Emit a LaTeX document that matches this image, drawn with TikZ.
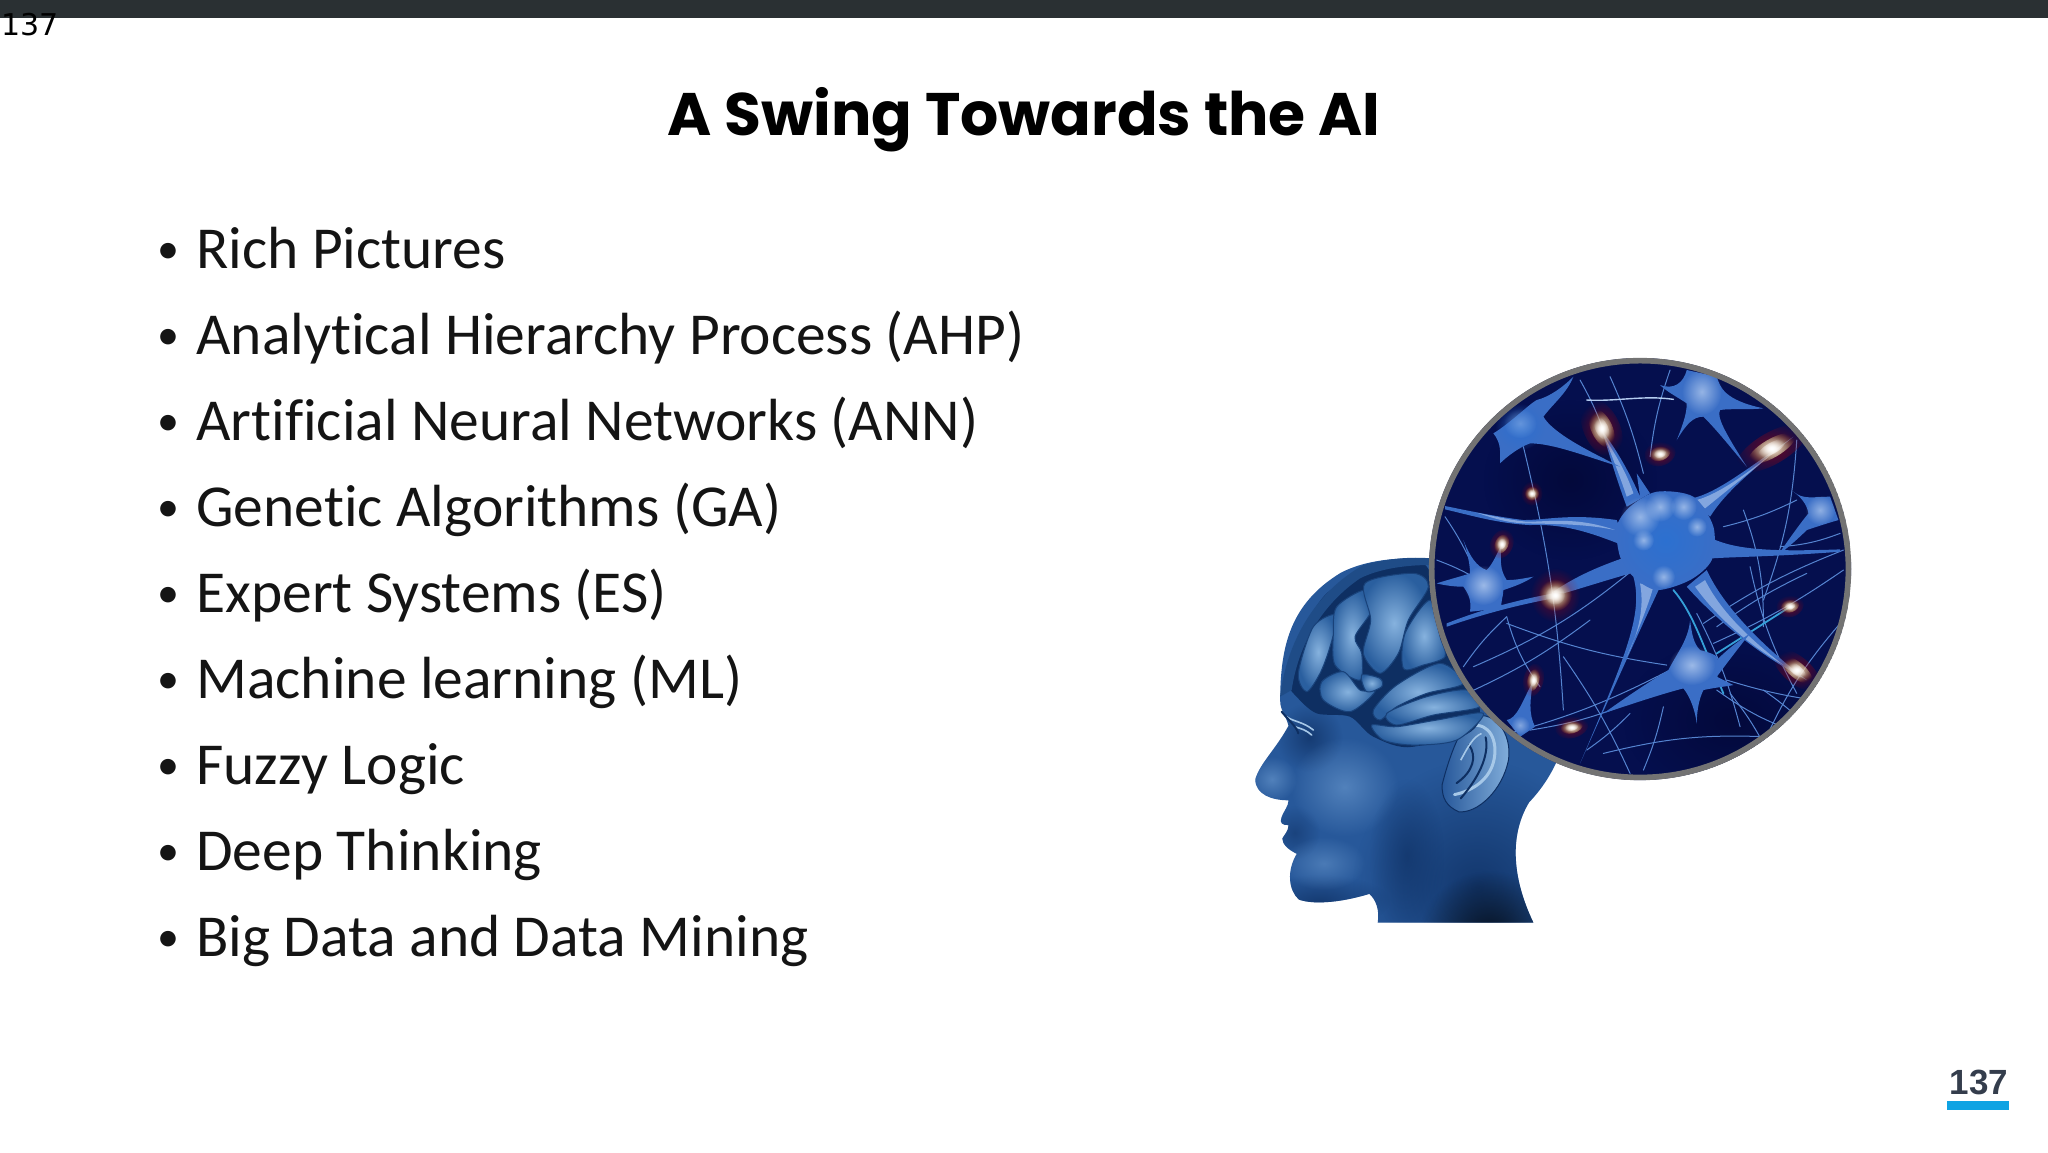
\documentclass[tikz,border=0pt]{standalone}
\usepackage{fontspec}
\setmainfont[Ligatures=NoCommon]{Carlito}
\newfontfamily\titlefont{Poppins}
\newfontfamily\cornerfont{DejaVu Sans}
\newfontfamily\pagefont{Liberation Sans}
\usetikzlibrary{positioning,shapes,fadings}
\definecolor{barcol}{HTML}{2A3033}
\definecolor{pagecol}{HTML}{343D4C}
\definecolor{rulecol}{HTML}{0FA3E3}
\definecolor{skincol}{HTML}{27589A}
\definecolor{skindark}{HTML}{0E2F62}
\definecolor{skinlight}{HTML}{6E9DD2}
\definecolor{lobecol}{HTML}{2A5F9F}
\definecolor{lobelit}{HTML}{86B2DE}
\definecolor{lobelight}{HTML}{A6C8E8}
\definecolor{navycol}{HTML}{050F4E}
\definecolor{navydark}{HTML}{030838}
\definecolor{cellcol}{HTML}{3A6EC6}
\definecolor{cellmid}{HTML}{2C70D0}
\definecolor{celllight}{HTML}{B4CCF0}
\definecolor{fibercol}{HTML}{5584D0}
\pgfdeclareradialshading{glowspot}{\pgfpointorigin}{color(0bp)=(white); color(14bp)=(white!70!yellow); color(26bp)=(orange!90!yellow); color(38bp)=(red!60!orange); color(50bp)=(red!60!black)}
\tikzfading[name=softedge, inner color=transparent!0, outer color=transparent!100]
\newcommand{\itemdot}{\makebox[19.5pt][l]{\raisebox{2.4pt}{\fontsize{22}{22}\selectfont\textbullet}}}
\begin{document}
\begin{tikzpicture}[x=0.5pt,y=-0.5pt,
    item/.style = {font=\fontsize{29.75}{32}\selectfont, text=black!92, inner sep=0pt, align=left, text height=21pt, text depth=7pt},
    fiber/.style = {draw=fibercol, line width=0.5pt, line cap=round},
    arm/.style = {fill=cellcol, draw=none},
    armlit/.style = {fill=celllight, opacity=.6, draw=none},
    fold/.style = {draw=skindark, line width=1pt, line cap=round},
    gyrus/.style = {inner color=lobelit, outer color=lobecol, draw=skindark!60!lobecol, line width=.5pt},
    soft/.style = {path fading=softedge},
    glow/.style = {shading=glowspot, path fading=softedge}]
    \useasboundingbox (0,0) rectangle (2048,1152);
    \fill[barcol] (0,0) rectangle (2048,18);

    \node[font=\cornerfont\fontsize{15}{16}\selectfont, inner sep=0pt, anchor=base west] (corner) at (1,35) {137};
    \node[font=\titlefont\bfseries\fontsize{30}{32}\selectfont, inner sep=0pt] (title) at (1024,120) {A Swing Towards the AI};

    \node[item, anchor=west] (i1) at (157,254) {\itemdot Rich Pictures};
    \node[item, below=43pt of i1.west, anchor=west] (i2) {\itemdot Analytical Hierarchy Process (AHP)};
    \node[item, below=43pt of i2.west, anchor=west] (i3) {\itemdot Artificial Neural Networks (ANN)};
    \node[item, below=43pt of i3.west, anchor=west] (i4) {\itemdot Genetic Algorithms (GA)};
    \node[item, below=43pt of i4.west, anchor=west] (i5) {\itemdot Expert Systems (ES)};
    \node[item, below=43pt of i5.west, anchor=west] (i6) {\itemdot Machine learning (ML)};
    \node[item, below=43pt of i6.west, anchor=west] (i7) {\itemdot Fuzzy Logic};
    \node[item, below=43pt of i7.west, anchor=west] (i8) {\itemdot Deep Thinking};
    \node[item, below=43pt of i8.west, anchor=west] (i9) {\itemdot Big Data and Data Mining};

    \node[font=\pagefont\bfseries\fontsize{17.5}{18}\selectfont, text=pagecol, inner sep=0pt] (page) at (1979,1082) {137};
    \fill[rulecol] (1947,1101) rectangle (2009,1110);

    % head
    \begin{scope}[shift={(1220,340)},x=0.2075pt,y=-0.191pt]
    \begin{scope}
    \clip
        (380,1525) .. controls (385,1490) and (375,1465) .. (360,1450)
        .. controls (300,1470) and (230,1480) .. (190,1465)
        .. controls (165,1440) and (160,1390) .. (185,1345)
        .. controls (165,1335) and (150,1320) .. (150,1305)
        .. controls (155,1295) and (165,1285) .. (165,1270)
        .. controls (150,1270) and (143,1265) .. (148,1250)
        .. controls (155,1230) and (165,1220) .. (165,1205)
        .. controls (125,1205) and (85,1190) .. (85,1150)
        .. controls (95,1110) and (135,1070) .. (165,1010)
        .. controls (160,985) and (145,970) .. (145,945)
        .. controls (145,800) and (170,690) .. (290,610)
        .. controls (350,575) and (440,565) .. (530,575)
        -- (830,1050) .. controls (810,1120) and (780,1170) .. (745,1210)
        .. controls (700,1290) and (700,1400) .. (755,1525) -- cycle;
    \fill[skincol] (0,500) rectangle (900,1600);
    % shadows and lights on the face
    \fill[skindark, soft, opacity=.8] (620,1430) ellipse [x radius=300, y radius=330];
    \fill[black, soft, opacity=.75] (650,1560) ellipse [x radius=170, y radius=170];
    \fill[skindark, soft, opacity=.7] (240,1470) ellipse [x radius=170, y radius=70];
    \fill[skindark, soft, opacity=.7] (215,1040) ellipse [x radius=80, y radius=90];
    \fill[skindark, soft, opacity=.5] (180,1290) ellipse [x radius=60, y radius=70];
    \fill[skinlight, soft, opacity=.6] (300,1170) ellipse [x radius=130, y radius=130];
    \fill[skinlight, soft, opacity=.6] (125,1150) ellipse [x radius=60, y radius=60];
    \fill[skinlight, soft, opacity=.5] (250,1370) ellipse [x radius=100, y radius=70];
    \fill[skindark, soft, opacity=.6] (450,1350) ellipse [x radius=90, y radius=200];
    \end{scope}
    % ear
    \path[left color=skincol, right color=lobelit, draw=skindark, line width=.5pt] (535,1165) .. controls (550,1100) and (570,1040) .. (600,990)
        .. controls (660,960) and (705,1030) .. (695,1100)
        .. controls (680,1180) and (620,1240) .. (575,1235)
        .. controls (545,1220) and (535,1200) .. (535,1165) -- cycle;
    \path[draw=lobelight, line width=1.5pt, line cap=round] (605,1010) .. controls (650,1000) and (670,1050) .. (660,1100) .. controls (650,1150) and (610,1180) .. (565,1190);
    \path[fold] (600,1060) .. controls (620,1090) and (610,1130) .. (570,1160);
    \path[fold] (640,1040) .. controls (650,1090) and (620,1150) .. (580,1200);
    \path[draw=lobelight, line width=.8pt] (580,1100) .. controls (600,1060) and (610,1040) .. (630,1030);
    \end{scope}

    % brain
    \begin{scope}[shift={(1280,550)},x=0.1667pt,y=-0.1667pt]
    \path[fill=skindark] plot[smooth cycle] coordinates {(30,400) (60,260) (140,130) (260,70) (440,50) (600,500) (400,590) (280,560) (210,500) (110,490) (50,440)};
    \path[fill=skindark!40!lobecol] (0,440) .. controls (20,280) and (100,130) .. (250,45) .. controls (320,25) and (400,20) .. (450,25) -- (450,45) .. controls (380,45) and (300,55) .. (240,85) .. controls (130,160) and (55,280) .. (35,420) -- cycle;
    \path[gyrus] plot[smooth cycle] coordinates {(55,370) (100,230) (170,195) (150,290) (120,370) (80,425)};
    \path[gyrus] plot[smooth cycle] coordinates {(170,170) (255,120) (275,180) (225,260) (245,310) (240,390) (165,345) (160,250)};
    \path[gyrus] plot[smooth cycle] coordinates {(255,100) (400,70) (445,110) (385,210) (355,310) (300,370) (250,310) (272,210)};
    \path[gyrus] plot[smooth cycle] coordinates {(125,395) (190,365) (240,420) (285,425) (210,485) (130,450)};
    \path[gyrus] plot[smooth cycle] coordinates {(245,375) (300,385) (305,410) (260,425)};
    \path[gyrus] plot[smooth cycle] coordinates {(375,250) (450,150) (480,260) (495,320) (430,345) (370,355)};
    \path[gyrus] plot[smooth cycle] coordinates {(280,480) (350,405) (480,340) (550,400) (440,430) (350,470) (300,510)};
    \path[gyrus] plot[smooth cycle] coordinates {(320,490) (440,440) (560,420) (600,470) (460,495) (350,525)};
    \path[gyrus] plot[smooth cycle] coordinates {(275,525) (350,530) (470,510) (610,490) (530,570) (400,585) (310,570)};
    % eye
    \path[draw=lobelight, line width=.8pt, line cap=round] (20,500) .. controls (40,515) and (70,515) .. (100,540);
    \path[draw=lobelight, line width=.8pt, line cap=round] (45,530) .. controls (60,535) and (80,540) .. (95,555);
    \path[fold] (5,485) .. controls (25,510) and (50,530) .. (55,550);
    \end{scope}

    % lens with nerve cells
    \begin{scope}[shift={(1430,360)},x=0.1667pt,y=-0.1667pt]
    \begin{scope}
    \clip (630,627) circle [radius=633];
    \fill[navycol] (630,627) circle [radius=633];
    \fill[navydark, soft, opacity=.85] (420,360) ellipse [x radius=260, y radius=240];
    \fill[navydark, soft, opacity=.85] (900,1080) ellipse [x radius=320, y radius=240];
    \foreach \a/\b/\c/\d/\e in {45/470/120/600/4, 230/770/330/980/-10, 230/790/710/915/-6, 280/260/400/1050/5, 450/60/520/210/4, 540/50/640/340/5, 720/30/660/290/-6, 130/920/620/620/-8, 100/920/230/770/6, 110/1000/480/780/-6, 1240/630/850/850/5, 1240/570/820/790/-6, 1230/790/1000/1150/-8, 940/450/1000/800/10, 1100/240/1000/720/8, 960/620/1100/1000/-8, 880/500/1100/420/-6, 800/760/930/1100/6, 200/1130/720/930/-6, 300/1110/660/1000/-8, 400/890/600/1240/5, 700/1040/640/1230/5, 1000/1150/900/1000/-5, 860/990/1110/1120/-8, 890/960/1150/1020/-4, 1000/990/1160/1130/6, 20/600/130/650/4, 470/1170/600/1060/-5, 520/1180/1010/1130/8, 1050/560/1230/520/-8, 860/800/1130/640/5}
        \path[fiber] (\a,\b) to[bend left=\e] (\c,\d);
    \path[draw=celllight, line width=.7pt, line cap=round] (470,120) .. controls (560,125) and (640,105) .. (730,118);
    \path[draw=cyan!60!fibercol, line width=.9pt, line cap=round] (730,690) .. controls (790,760) and (820,860) .. (880,1000);
    \path[draw=cyan!60!fibercol, line width=.9pt, line cap=round] (1080,740) -- (860,880);
    % arms of the large cell
    \path[arm] (45,438) .. controls (130,455) and (200,470) .. (280,480) .. controls (350,480) and (420,460) .. (560,480) -- (590,560) .. controls (510,530) and (420,490) .. (300,495) .. controls (200,490) and (120,465) .. (45,448) -- cycle;
    \path[armlit] (140,458) .. controls (200,470) and (240,480) .. (290,485) .. controls (360,485) and (440,470) .. (555,510) .. controls (460,490) and (360,492) .. (290,490) .. controls (240,490) and (190,475) .. (140,458) -- cycle;
    \path[arm] (590,440) .. controls (560,360) and (540,290) .. (515,210) .. controls (560,270) and (600,340) .. (630,410) -- (620,340) -- (660,400) -- cycle;
    \path[armlit] (590,410) .. controls (570,350) and (550,300) .. (525,235) .. controls (560,290) and (590,340) .. (610,400) -- cycle;
    \path[arm] (785,415) .. controls (860,400) and (960,320) .. (1090,230) .. controls (980,320) and (890,390) .. (840,470) -- cycle;
    \path[armlit] (800,420) .. controls (870,400) and (950,340) .. (1040,270) .. controls (950,345) and (880,400) .. (825,445) -- cycle;
    \path[arm] (830,630) .. controls (880,740) and (1000,860) .. (1130,960) .. controls (980,880) and (860,780) .. (770,680) -- cycle;
    \path[armlit] (825,660) .. controls (870,750) and (950,830) .. (1060,915) .. controls (950,850) and (860,770) .. (795,680) -- cycle;
    \path[arm] (610,650) .. controls (640,760) and (590,880) .. (450,1210) .. controls (530,1030) and (620,830) .. (690,680) -- cycle;
    \path[armlit] (630,670) .. controls (645,750) and (620,830) .. (590,890) .. controls (620,820) and (650,750) .. (670,680) -- cycle;
    \path[arm] (845,535) .. controls (920,570) and (1030,575) .. (1230,568) -- (1230,575) .. controls (1030,590) and (920,590) .. (845,595) -- cycle;
    \path[arm] (620,580) .. controls (530,610) and (450,640) .. (370,695) -- (400,700) .. controls (470,680) and (560,650) .. (640,630) -- cycle;
    \path[arm] (50,790) .. controls (150,750) and (260,720) .. (370,700) -- (370,715) .. controls (260,735) and (150,765) .. (50,800) -- cycle;
    \path[inner color=cellmid, outer color=cellcol] plot[smooth cycle] coordinates {(560,500) (600,440) (680,395) (790,410) (850,500) (845,600) (780,660) (680,690) (610,650) (570,590)};
    \foreach \a/\b/\r in {630/470/60, 690/440/45, 760/440/40, 640/540/32, 800/500/30, 700/650/35}
        \fill[celllight, soft, opacity=.75] (\a,\b) circle [radius=\r];
    % smaller cells
    \path[arm] (100,540) .. controls (120,590) and (140,620) .. (170,630) .. controls (190,610) and (200,580) .. (215,555) .. controls (210,600) and (210,630) .. (230,660) .. controls (260,660) and (280,655) .. (310,650) .. controls (280,670) and (250,680) .. (220,690) .. controls (220,710) and (210,730) .. (215,745) -- (120,755) .. controls (125,720) and (115,700) .. (100,680) .. controls (70,680) and (40,675) .. (20,670) .. controls (50,660) and (90,650) .. (120,640) .. controls (120,610) and (110,570) .. (100,540) -- cycle;
    \fill[celllight, soft, opacity=.8] (160,675) circle [radius=60];
    \path[arm] (780,780) .. controls (785,820) and (790,850) .. (810,870) .. controls (850,880) and (870,890) .. (860,900) .. controls (900,860) and (930,840) .. (960,820) .. controls (920,870) and (890,910) .. (860,950) .. controls (880,960) and (890,965) .. (910,975) .. controls (880,980) and (840,985) .. (820,990) .. controls (805,1020) and (800,1060) .. (800,1090) .. controls (795,1050) and (780,1010) .. (760,985) .. controls (700,1000) and (610,1030) .. (520,1060) .. controls (590,1010) and (650,970) .. (715,930) .. controls (740,880) and (775,840) .. (780,780) -- cycle;
    \fill[celllight, soft, opacity=.8] (785,915) ellipse [x radius=70, y radius=60];
    \path[arm] (1090,395) .. controls (1120,420) and (1150,410) .. (1200,410) -- (1225,480) .. controls (1190,490) and (1160,500) .. (1130,510) .. controls (1100,540) and (1075,560) .. (1040,590) .. controls (1075,540) and (1110,490) .. (1135,460) .. controls (1130,430) and (1110,410) .. (1090,395) -- cycle;
    \fill[celllight, soft, opacity=.7] (1170,450) circle [radius=45];
    \path[arm] (690,75) .. controls (730,90) and (760,70) .. (770,30) -- (860,50) .. controls (870,80) and (880,120) .. (1000,145) .. controls (950,150) and (900,145) .. (870,150) .. controls (860,170) and (880,210) .. (950,320) .. controls (900,260) and (860,210) .. (820,170) .. controls (790,170) and (770,190) .. (740,240) .. controls (760,190) and (770,160) .. (770,130) .. controls (740,110) and (710,95) .. (690,75) -- cycle;
    \fill[celllight, soft, opacity=.75] (815,95) ellipse [x radius=60, y radius=70];
    \path[arm] (190,220) .. controls (240,190) and (300,130) .. (320,120) .. controls (360,110) and (400,80) .. (430,50) .. controls (410,100) and (370,130) .. (340,170) .. controls (370,220) and (470,270) .. (570,320) .. controls (470,290) and (370,250) .. (300,250) .. controls (270,260) and (230,290) .. (210,310) .. controls (210,280) and (215,250) .. (190,220) -- cycle;
    \fill[cellmid, soft, opacity=.9] (270,200) ellipse [x radius=75, y radius=70];
    \fill[celllight, soft, opacity=.4] (270,190) ellipse [x radius=50, y radius=45];
    \path[arm] (230,1080) .. controls (260,1075) and (275,1030) .. (310,960) .. controls (300,1020) and (295,1060) .. (315,1100) -- (270,1130) -- cycle;
    \fill[celllight, soft, opacity=.6] (270,1095) circle [radius=28];
    % sparks
    \foreach \a/\b/\r/\s/\t in {515/205/62/32/-65, 690/280/32/22/20, 305/400/22/22/0, 215/552/30/20/65, 375/705/50/48/0, 1025/265/80/28/30, 1080/737/28/20/20, 1100/930/58/24/-40, 310/960/34/18/75, 425/1100/34/20/15}{
        \path[fill=red!75!black, soft, opacity=.55, rotate around={\t:(\a,\b)}] (\a,\b) ellipse [x radius=\r*1.5, y radius=\s*1.7];
        \path[glow, rotate around={\t:(\a,\b)}] (\a,\b) ellipse [x radius=\r, y radius=\s];
        \path[fill=white, soft, rotate around={\t:(\a,\b)}] (\a,\b) ellipse [x radius=\r*.6, y radius=\s*.6];
    }
    \end{scope}
    \path[draw=gray!90!black, line width=2.8pt] (630,627) circle [radius=625];
    \end{scope}
\end{tikzpicture}
\end{document}
